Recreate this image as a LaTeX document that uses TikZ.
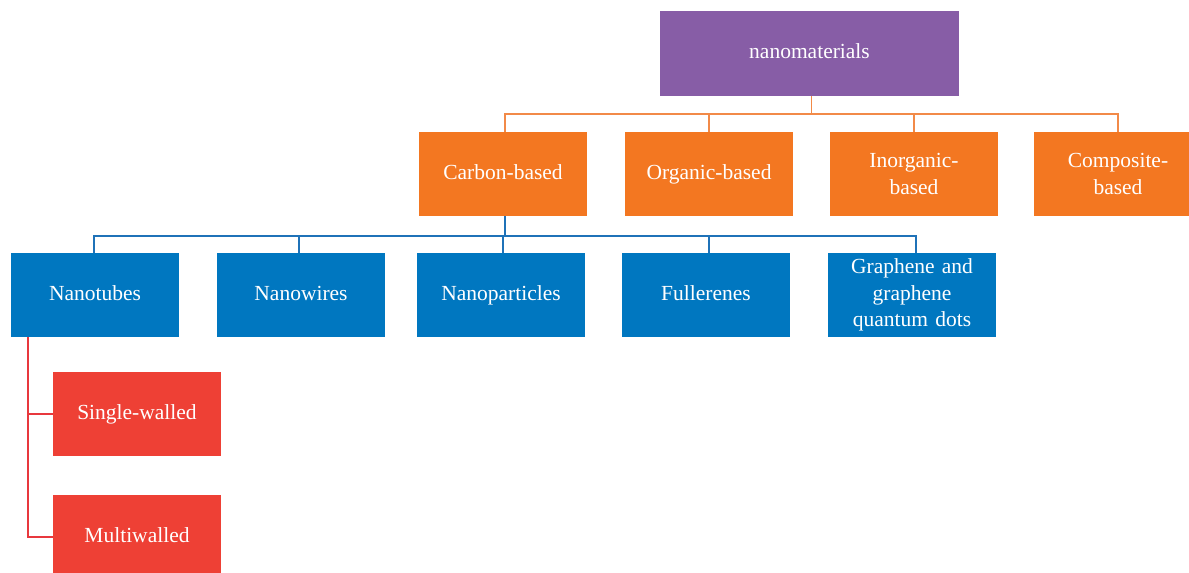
\documentclass[tikz,border=0pt]{standalone}
\usepackage{fontspec}
\setmainfont{Liberation Serif}
\definecolor{cpurple}{HTML}{875DA6}
\definecolor{corange}{HTML}{F37721}
\definecolor{cblue}{HTML}{0077C0}
\definecolor{cred}{HTML}{EE4035}
\definecolor{lorange}{HTML}{F28A48}
\definecolor{lblue}{HTML}{1F72B8}
\definecolor{lred}{HTML}{E8383D}
\begin{document}
\begin{tikzpicture}[x=1pt,y=-1pt,
  box/.style={inner sep=0pt,minimum width=168pt,minimum height=84pt,text=white,
    align=center,text width=166pt,font=\fontsize{21.5}{26.5}\selectfont},
  one/.style={text height=15pt,text depth=5pt},
  topbox/.style={box,one,fill=cpurple,minimum width=299pt,minimum height=85pt},
  obox/.style={box,fill=corange},
  bbox/.style={box,fill=cblue},
  rbox/.style={box,one,fill=cred},
  oline/.style={draw=lorange,line width=1.4pt},
  bline/.style={draw=lblue,line width=1.4pt},
  rline/.style={draw=lred,line width=1.4pt}]
\useasboundingbox (0,0) rectangle (1189,573);
\clip (0,0) rectangle (1189,573);
\node[topbox] (nano) at (809.5,53.5) {nanomaterials};
\node[obox,one] (carbon) at (503,174) {Carbon-based};
\node[obox,one] (organic) at (709,174) {Organic-based};
\node[obox] (inorganic) at (914,174) {Inorganic-\\based};
\node[obox] (composite) at (1118,174) {Composite-\\based};
\node[bbox,one] (nanotubes) at (95,295) {Nanotubes};
\node[bbox,one] (nanowires) at (301,295) {Nanowires};
\node[bbox,one] (nanoparticles) at (501,295) {Nanoparticles};
\node[bbox,one] (fullerenes) at (706,295) {Fullerenes};
\node[bbox] (graphene) at (912,295) {Graphene and\\graphene\\quantum dots};
\node[rbox] (single) at (137,414) {Single-walled};
\node[rbox] (multi) at (137,537) {Multiwalled};
% orange connectors
\draw[oline] ([xshift=2pt]nano.south) -- ++(0,18);
\draw[oline] ([xshift=2pt]carbon.north) -- ++(0,-18) -| (composite.north);
\draw[oline] (organic.north) -- ++(0,-18);
\draw[oline] (inorganic.north) -- ++(0,-18);
% blue connectors
\draw[bline] ([xshift=2pt]carbon.south) -- ++(0,20);
\draw[bline] ([xshift=-1pt]nanotubes.north) -- ++(0,-17) -| ([xshift=4pt]graphene.north);
\draw[bline] ([xshift=-2pt]nanowires.north) -- ++(0,-17);
\draw[bline] ([xshift=2pt]nanoparticles.north) -- ++(0,-17);
\draw[bline] ([xshift=3pt]fullerenes.north) -- ++(0,-17);
% red connectors
\coordinate (rtop) at ([xshift=-67pt]nanotubes.south);
\draw[rline] (rtop) |- (single.west);
\draw[rline] (rtop) |- (multi.west);
\end{tikzpicture}
\end{document}
